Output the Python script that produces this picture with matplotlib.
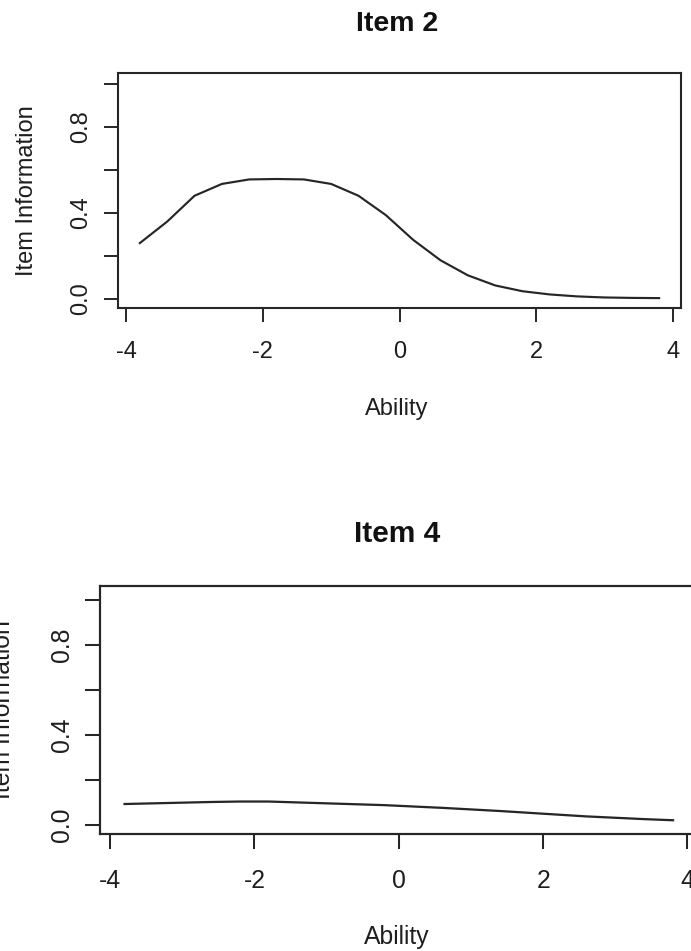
import numpy as np
import matplotlib.pyplot as plt

# item information curves
ability = [-3.8, -3.4, -3.0, -2.6, -2.2, -1.8, -1.4, -1.0, -0.6, -0.2,
           0.2, 0.6, 1.0, 1.4, 1.8, 2.2, 2.6, 3.0, 3.4, 3.8]
item2_info = [0.26, 0.36, 0.48, 0.535, 0.556, 0.558, 0.556, 0.535, 0.48, 0.39,
              0.275, 0.18, 0.11, 0.063, 0.036, 0.021, 0.012, 0.007, 0.005, 0.004]
item4_info = [0.093, 0.096, 0.099, 0.102, 0.104, 0.104, 0.100, 0.096, 0.092, 0.088,
              0.082, 0.076, 0.069, 0.062, 0.054, 0.046, 0.038, 0.032, 0.026, 0.021]

x_ticks = [-4, -2, 0, 2, 4]
y_ticks = [0.0, 0.2, 0.4, 0.6, 0.8, 1.0]
y_tick_labels = ["0.0", "", "0.4", "", "0.8", ""]
titles = ["Item 2", "Item 4"]
x_label = "Ability"
y_label = "Item Information"

W, H = 691, 951
INK = "#262626"

plt.rcParams["font.family"] = ["Liberation Sans", "DejaVu Sans"]
fig = plt.figure(figsize=(W / 100, H / 100), dpi=100)


def px_rect(left, top, right, bottom):
    return [left / W, 1 - bottom / H, (right - left) / W, (bottom - top) / H]


def panel(box, xlim, ylim, values, title, k, title_y, xlab_y, ylab_x, xpad, ypad):
    # k scales fonts/lines, the lower panel is drawn a bit larger
    ax = fig.add_axes(px_rect(*box))
    ax.plot(ability, values, color=INK, lw=1.55 * k)
    ax.set_xlim(*xlim)
    ax.set_ylim(*ylim)
    ax.set_xticks(x_ticks)
    ax.set_xticklabels([str(t) for t in x_ticks])
    ax.set_yticks(y_ticks)
    ax.set_yticklabels(y_tick_labels)
    for s in ax.spines.values():
        s.set_linewidth(1.5 * k)
        s.set_color(INK)
    ax.tick_params(direction="out", length=10 * k, width=1.4 * k, colors=INK,
                   labelsize=17 * k, labelcolor="#1e1e1e")
    ax.tick_params(axis="x", pad=xpad)
    ax.tick_params(axis="y", pad=ypad)
    plt.setp(ax.get_yticklabels(), rotation=90, rotation_mode="anchor",
             ha="center", va="baseline")

    left, top, right, bottom = box
    cx = 397.0
    ax.set_title(title, fontsize=20.5 * k, fontweight="bold", color="#111111",
                 x=(cx - left) / (right - left),
                 y=(bottom - title_y) / (bottom - top), pad=0, va="baseline")
    ax.set_xlabel(x_label, fontsize=17 * k, color="#1e1e1e", va="baseline")
    ax.xaxis.set_label_coords(cx / W, 1 - xlab_y / H, transform=fig.transFigure)
    ax.set_ylabel(y_label, fontsize=17 * k, color="#1e1e1e", va="baseline",
                  rotation_mode="anchor")
    ax.yaxis.set_label_coords(ylab_x / W, 1 - (top + bottom) / 2 / H,
                              transform=fig.transFigure)
    return ax


panel((118, 73, 681, 308), (-4.12, 4.12), (-0.042, 1.051), item2_info, titles[0],
      1.0, 31, 415, 33, 14, 12)
panel((100, 586, 697.6, 834), (-4.14, 4.14), (-0.04, 1.06), item4_info, titles[1],
      1.05, 542, 944, 10, 14.5, 11.5)

fig.savefig("out.png", dpi=100, facecolor="white")
